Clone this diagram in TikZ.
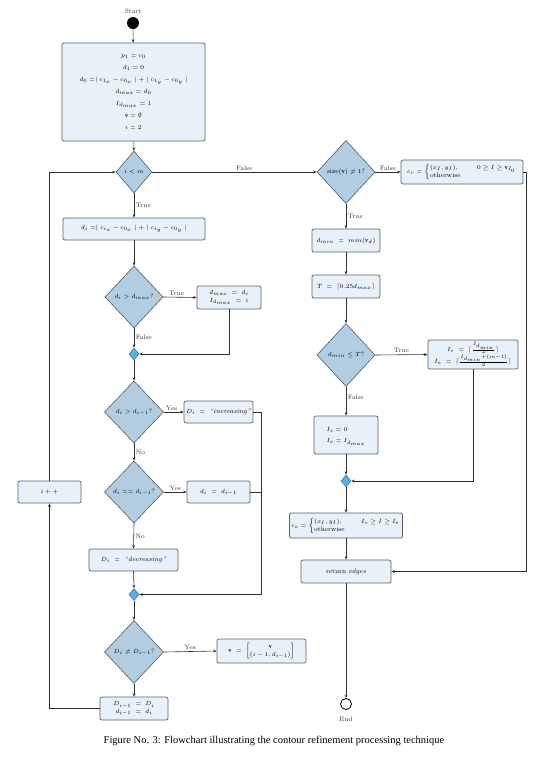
\documentclass[tikz,border=0pt]{standalone}
\usepackage{amsmath,amssymb}
\usepackage{fontspec}
\newfontfamily\capfont{Liberation Serif}
\usetikzlibrary{shapes.geometric,arrows.meta,calc}
\definecolor{boxfill}{HTML}{E8F1FA}
\definecolor{boxline}{HTML}{5A5F66}
\definecolor{decfill}{HTML}{B2CDE2}
\definecolor{decline}{HTML}{4F5B66}
\definecolor{juncfill}{HTML}{5DADE6}
\definecolor{juncline}{HTML}{2F6E9E}
\definecolor{conn}{HTML}{2E2E2E}
\tikzset{
  every node/.style={font=\fontsize{6.5}{8}\selectfont},
  box/.style={draw=boxline, fill=boxfill, rounded corners=2pt, line width=0.7pt, inner sep=2pt, align=center},
  decision/.style={diamond, draw=decline, fill=decfill, line width=0.6pt, inner sep=0pt, aspect=1},
  junc/.style={diamond, draw=juncline, fill=juncfill, line width=0.5pt, inner sep=0pt, minimum width=10pt, minimum height=12pt},
  lbl/.style={inner sep=1.5pt, text=black!80},
  arr/.style={draw=conn, line width=0.6pt, -{Stealth[length=3.5pt,width=2.8pt]}},
  ln/.style={draw=conn, line width=0.6pt},
}
\begin{document}
\begin{tikzpicture}[x=1pt,y=-1pt]
\useasboundingbox (0,0) rectangle (558,758);
% start
\node[lbl] (starttxt) at (133,11) {Start};
\node[circle, fill=black, inner sep=0pt, minimum size=12pt] (start) at (133,23) {};
% init
\node[box, minimum width=143pt, minimum height=98pt, font=\fontsize{6.5}{12}\selectfont] (init) at (133.5,92) {$p_1 = c_0$\\ $d_1 = 0$\\ $d_0 = \mid c_{1_x} - c_{0_x} \mid + \mid c_{1_y} - c_{0_y} \mid$\\ $d_{max} = d_0$\\ $I_{d_{max}} = 1$\\ $\mathbf{v} = \emptyset$\\ $i = 2$};
% i<m
\node[decision, minimum width=36pt, minimum height=42pt] (d1) at (134,172) {$i<m$};
\node[box, minimum width=142pt, minimum height=22pt] (dibox) at (134,229) {$d_i = \mid c_{i_x} - c_{0_x} \mid + \mid c_{i_y} - c_{0_y} \mid$};
\node[decision, minimum width=58pt, minimum height=62pt] (d2) at (134,297) {$d_i > d_{max}$?};
\node[box, minimum width=64pt, minimum height=23pt, font=\fontsize{6.5}{7.5}\selectfont] (maxbox) at (229,297.5) {$d_{max} \;=\; d_i$\\ $I_{d_{max}} \;=\; i$};
\node[junc] (j1) at (134,354) {};
\node[decision, minimum width=59pt, minimum height=62pt] (d3) at (134,412) {$d_i > d_{i-1}$?};
\node[box, minimum width=69pt, minimum height=22pt] (inc) at (218.5,412) {$D_i \;=\;$ \textit{``increasing''}};
\node[decision, minimum width=59pt, minimum height=62pt] (d4) at (134,492) {$d_i == d_{i-1}$?};
\node[box, minimum width=63pt, minimum height=22pt] (eq) at (218.5,492) {$d_i \;=\; d_{i-1}$};
\node[box, minimum width=89pt, minimum height=22pt] (dec) at (133.5,560) {$D_i \;=\;$ \textit{``decreasing''}};
\node[junc] (j2) at (134,594.5) {};
\node[box, minimum width=63pt, minimum height=22pt] (ipp) at (49.5,492) {$i++$};
\node[decision, minimum width=59pt, minimum height=63pt] (d5) at (134,652) {$D_i \neq D_{i-1}$?};
\node[box, minimum width=89pt, minimum height=24pt] (vbox) at (261.5,651) {$\mathbf{v} \;=\; \left[\begin{array}{@{}c@{}}\mathbf{v}\\ (i-1, d_{i-1})\end{array}\right]$};
\node[box, minimum width=68pt, minimum height=23pt, font=\fontsize{6.5}{7.5}\selectfont] (upd) at (134,708.5) {$D_{i-1} \;=\; D_i$\\ $d_{i-1} \;=\; d_i$};
% right column
\node[decision, minimum width=58pt, minimum height=63pt] (d6) at (346,172) {size$(\mathbf{v}) \neq 1$?};
\node[box, minimum width=122pt, minimum height=24pt, align=left] (cr1) at (462,172) {$c_r = \left\{\begin{array}{@{}ll@{}} (x_I, y_I), & \quad 0 \geq I \geq \mathbf{v}_{I_0}\\ \text{otherwise} & \end{array}\right.$};
\node[box, minimum width=68pt, minimum height=23pt] (dmin) at (346,240.5) {$d_{min} \;=\; min(\mathbf{v}_d)$};
\node[box, minimum width=68pt, minimum height=23pt] (tbox) at (346,286.5) {$T \;=\; \lceil 0.25 d_{max} \rceil$};
\node[decision, minimum width=58pt, minimum height=63pt] (d7) at (346,355) {$d_{min} \leq T$?};
\node[box, minimum width=90pt, minimum height=29pt, font=\fontsize{6.5}{9}\selectfont] (isie) at (473,354.5) {$I_s \;=\; \lceil \tfrac{I_{d_{min}}}{2} \rceil$\\ $I_e \;=\; \lceil \tfrac{I_{d_{min}}+(m-1)}{2} \rceil$};
\node[box, minimum width=64pt, minimum height=38pt, align=left, font=\fontsize{6.5}{11}\selectfont] (is0) at (346,435) {\\[-4pt]$I_s = 0$\\ $I_e = I_{d_{max}}$};
\node[junc] (j3) at (346,481) {};
\node[box, minimum width=110pt, minimum height=25pt, align=left] (cr2) at (346,525.5) {$c_e = \left\{\begin{array}{@{}ll@{}} (x_I, y_I), & \quad I_s \geq I \geq I_e\\ \text{otherwise} & \end{array}\right.$};
\node[box, minimum width=90pt, minimum height=23pt] (ret) at (346,571.5) {return \textit{edges}};
\node[circle, draw=black, line width=0.8pt, fill=white, inner sep=0pt, minimum size=11pt] (end) at (346,704) {};
\node[lbl] (endtxt) at (346,719) {End};
% caption
\node[font=\capfont\fontsize{10.5}{12}\selectfont, inner sep=0pt] (cap) at (274,741) {Figure No. 3: Flowchart illustrating the contour refinement processing technique};
% connectors
\draw[arr] (start) -- (init);
\draw[arr] (init) -- (d1);
\draw[arr] (d1) -- node[lbl, right, pos=0.5] {True} (dibox);
\draw[arr] (d1.east) -- node[lbl, above, pos=0.56] {False} (d6.west);
\draw[arr] (dibox) -- (d2);
\draw[arr] (d2.east) -- node[lbl, above, pos=0.4] {True} (maxbox.west);
\draw[arr] (maxbox.south) |- (j1.east);
\draw[arr] (d2.south) -- node[lbl, right, pos=0.45] {False} (j1.north);
\draw[arr] (j1.south) -- (d3.north);
\draw[arr] (d3.east) -- node[lbl, above, pos=0.4] {Yes} (inc.west);
\draw[arr] (d3.south) -- node[lbl, right, pos=0.5] {No} (d4.north);
\draw[arr] (d4.east) -- node[lbl, above, pos=0.5] {Yes} (eq.west);
\draw[arr] (d4.south) -- node[lbl, right, pos=0.5] {No} (dec.north);
\draw[arr] (dec.south) -- (j2.north);
\coordinate (rc) at (261,594.5);
\draw[arr] (inc.east) -| (rc) -- (j2.east);
\draw[ln] (eq.east) -- (eq.east -| rc);
\draw[arr] (j2.south) -- (d5.north);
\draw[arr] (d5.east) -- node[lbl, above, pos=0.5] {Yes} (vbox.west);
\draw[arr] (d5.south) -- (upd.north);
\draw[arr] (upd.west) -| (ipp.south);
\draw[arr] (ipp.north) |- (d1.west);
\draw[arr] (d6.east) -- node[lbl, above, pos=0.5] {False} (cr1.west);
\draw[arr] (d6.south) -- node[lbl, right, pos=0.5] {True} (dmin.north);
\draw[arr] (dmin) -- (tbox);
\draw[arr] (tbox) -- (d7);
\draw[arr] (d7.east) -- node[lbl, above, pos=0.5] {True} (isie.west);
\draw[arr] (d7.south) -- node[lbl, right, pos=0.35] {False} (is0.north);
\draw[arr] (isie.south) |- (j3.east);
\draw[arr] (is0.south) -- (j3.north);
\draw[arr] (j3.south) -- (cr2.north);
\draw[arr] (cr2) -- (ret);
\coordinate (rr) at (526,172);
\draw[arr] (cr1.east) -- (rr) |- (ret.east);
\draw[arr] (ret) -- (end);
\end{tikzpicture}
\end{document}
